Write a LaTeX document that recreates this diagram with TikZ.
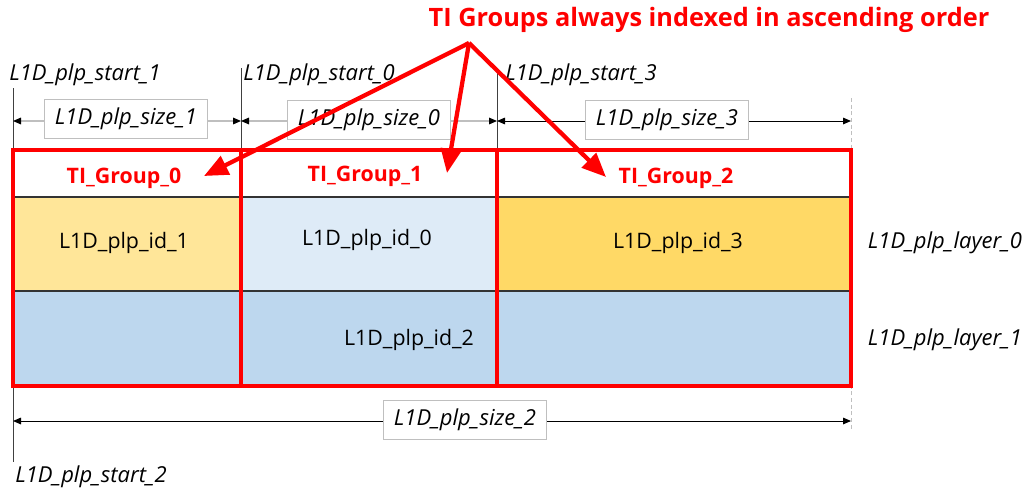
\documentclass[tikz,border=0pt]{standalone}
\usepackage{fontspec}
\setmainfont{Open Sans}
\usetikzlibrary{arrows.meta}
\definecolor{tred}{HTML}{FF0000}
\definecolor{cOrangeL}{HTML}{FFE699}
\definecolor{cBlueL}{HTML}{DEEBF7}
\definecolor{cGold}{HTML}{FFD966}
\definecolor{cBlue}{HTML}{BDD7EE}
\definecolor{lgray}{HTML}{BFBFBF}
\tikzset{
  lbl/.style={font=\fontsize{16.5}{18}\selectfont\itshape, inner sep=0pt},
  sizebox/.style={draw=lgray, fill=white, font=\fontsize{16.5}{18}\selectfont\itshape, minimum height=29pt, inner xsep=8pt, line width=0.6pt},
  cell/.style={font=\fontsize{16}{18}\selectfont, inner sep=0pt},
  grp/.style={font=\fontsize{16}{18}\selectfont\bfseries, text=tred, inner sep=0pt},
  redbox/.style={draw=tred, line width=2.4pt},
  sep/.style={draw=black!80, line width=0.8pt},
  tick/.style={draw=black!75, line width=0.6pt},
  dimgray/.style={draw=lgray, line width=0.8pt, {Triangle[length=6pt,width=5pt,color=black]}-{Triangle[length=6pt,width=5pt,color=black]}},
  dimblack/.style={draw=black, line width=0.7pt, {Triangle[length=6pt,width=5pt]}-{Triangle[length=6pt,width=5pt]}},
  bigarrow/.style={draw=tred, line width=3.2pt, -{Triangle[length=18pt,width=15pt]}}
}
\begin{document}
\begin{tikzpicture}[x=0.75pt,y=-0.75pt]
\useasboundingbox (0,0) rectangle (1029,493);
% fills
\fill[cOrangeL] (13,197) rectangle (241,291);
\fill[cBlueL] (241,197) rectangle (497,291);
\fill[cGold] (497,197) rectangle (851,291);
\fill[cBlue] (13,291) rectangle (851,386);
% separators
\draw[sep] (13,197) -- (851,197);
\draw[sep] (13,291) -- (851,291);
% tick lines
\coordinate (s1t) at (13,88);
\coordinate (s1b) at (13,462);
\coordinate (s0t) at (241,68);
\coordinate (s0b) at (241,150);
\coordinate (s3t) at (497,68);
\coordinate (s3b) at (497,150);
\coordinate (ent) at (851,98);
\coordinate (enb) at (851,430);
\draw[tick] (s1t) -- (s1b);
\draw[tick] (s0t) -- (s0b);
\draw[tick] (s3t) -- (s3b);
\draw[lgray, line width=0.7pt, dash pattern=on 3pt off 2pt] (ent) -- (enb);
% red boxes
\draw[redbox] (241,150) -- (241,386);
\draw[redbox] (497,150) -- (497,386);
\draw[redbox] (13,150) rectangle (851,386);
% dimension arrows
\coordinate (a1l) at (13,121);
\coordinate (a1r) at (241,121);
\coordinate (a0l) at (241,121);
\coordinate (a0r) at (497,121);
\coordinate (a3l) at (497,121);
\coordinate (a3r) at (851,121);
\coordinate (a2l) at (13,421);
\coordinate (a2r) at (851,421);
\draw[dimgray] (a1l) -- (a1r);
\draw[dimgray] (a0l) -- (a0r);
\draw[dimblack] (a3l) -- (a3r);
\draw[dimblack] (a2l) -- (a2r);
\node[sizebox] (sz1) at (126,119) {L1D\_plp\_size\_1};
\node[sizebox] (sz0) at (369,120) {L1D\_plp\_size\_0};
\node[sizebox] (sz3) at (667,120) {L1D\_plp\_size\_3};
\node[sizebox] (sz2) at (465,420) {L1D\_plp\_size\_2};
% start labels
\node[lbl, anchor=west] (st1) at (9,75) {L1D\_plp\_start\_1};
\node[lbl, anchor=west] (st0) at (243,75) {L1D\_plp\_start\_0};
\node[lbl, anchor=west] (st3) at (505,75) {L1D\_plp\_start\_3};
\node[lbl, anchor=west] (st2) at (15,477) {L1D\_plp\_start\_2};
% cell labels
\node[cell] (id1) at (124,243) {L1D\_plp\_id\_1};
\node[cell] (id0) at (367,240) {L1D\_plp\_id\_0};
\node[cell] (id3) at (678,243) {L1D\_plp\_id\_3};
\node[cell] (id2) at (409,340) {L1D\_plp\_id\_2};
\node[lbl] (ly0) at (945,243) {L1D\_plp\_layer\_0};
\node[lbl] (ly1) at (945,340) {L1D\_plp\_layer\_1};
% group labels
\node[grp] (g0) at (124,178) {TI\_Group\_0};
\node[grp] (g1) at (365,176) {TI\_Group\_1};
\node[grp] (g2) at (676,178) {TI\_Group\_2};
% title
\node[font=\fontsize{19}{21}\selectfont\bfseries, text=tred, inner sep=0pt] (title) at (709,20) {TI Groups always indexed in ascending order};
% arrows
\coordinate (apex) at (469,43);
\coordinate (t0) at (204,176);
\coordinate (t1) at (447,173);
\coordinate (t2) at (606,177);
\draw[bigarrow, line join=round] (apex) -- (t0);
\draw[bigarrow, line join=round] (apex) -- (t1);
\draw[bigarrow, line join=round] (apex) -- (t2);
\end{tikzpicture}
\end{document}
